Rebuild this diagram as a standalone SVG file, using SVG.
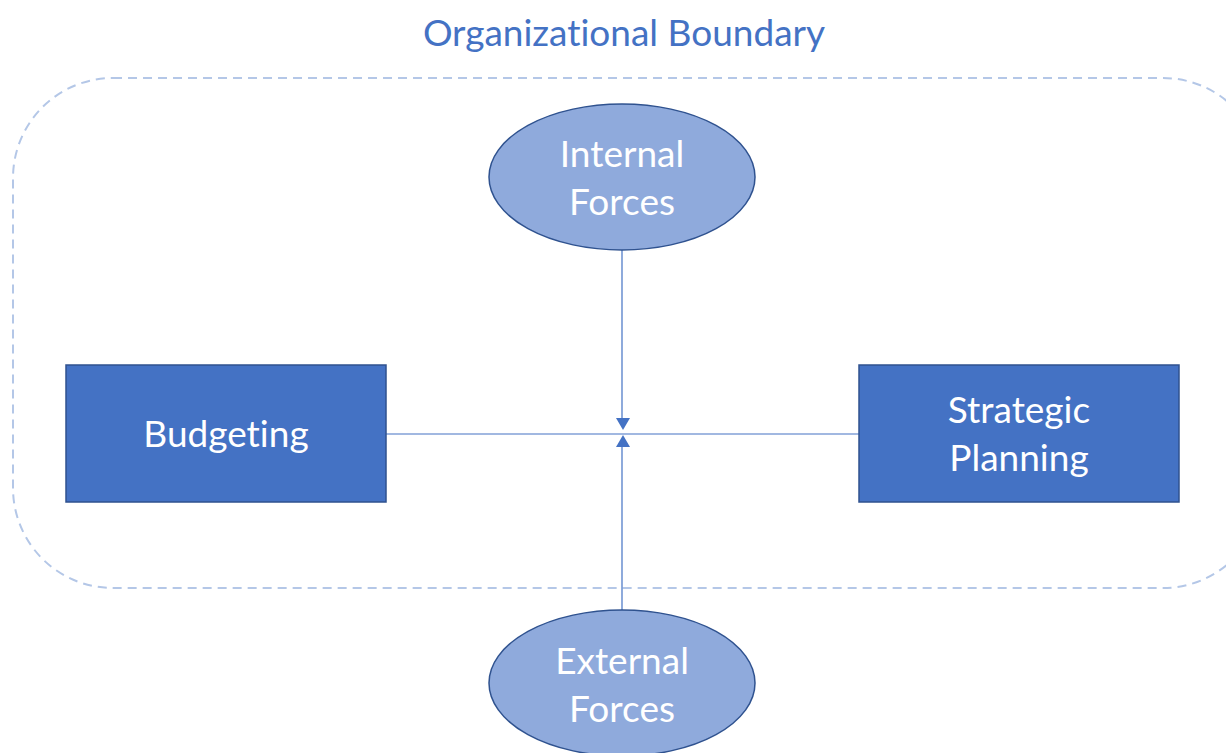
<svg xmlns="http://www.w3.org/2000/svg" width="1226" height="753" viewBox="0 0 1226 753">
<style>
.box{fill:#4472C4;stroke:#2F528F;stroke-width:1.5}
.ell{fill:#8FAADC;stroke:#2F528F;stroke-width:1.5}
.lbl{font-family:Lato,"Open Sans",sans-serif;font-size:37px;fill:#FFFFFF;text-anchor:middle;font-variant-ligatures:none}
.title{font-family:Lato,"Open Sans",sans-serif;font-size:37px;fill:#4472C4;text-anchor:middle;font-variant-ligatures:none}
.conn{stroke:#4472C4;stroke-width:1.2;fill:none}
</style>
<rect width="1226" height="753" fill="#FFFFFF"/>
<g id="boundary">
<rect x="13" y="78" width="1250" height="510" rx="100" ry="100" fill="none" stroke="#B4C7E7" stroke-width="2" stroke-dasharray="9,6"/>
<text class="title" x="624" y="46">Organizational Boundary</text>
</g>
<g id="connectors">
<line class="conn" x1="386" y1="434" x2="859" y2="434"/>
<line class="conn" x1="622" y1="250" x2="622" y2="418"/>
<path d="M616,418 L630,418 L623,430 z" fill="#4472C4"/>
<line class="conn" x1="622" y1="610" x2="622" y2="447"/>
<path d="M616,447 L630,447 L623,435 z" fill="#4472C4"/>
</g>
<g id="budgeting">
<rect class="box" x="66" y="365" width="320" height="137"/>
<text class="lbl" x="226" y="447">Budgeting</text>
</g>
<g id="strategic-planning">
<rect class="box" x="859" y="365" width="320" height="137"/>
<text class="lbl" x="1019" y="423">Strategic</text>
<text class="lbl" x="1019" y="471">Planning</text>
</g>
<g id="internal-forces">
<ellipse class="ell" cx="622" cy="177" rx="133" ry="73"/>
<text class="lbl" x="622" y="167">Internal</text>
<text class="lbl" x="622" y="215">Forces</text>
</g>
<g id="external-forces">
<ellipse class="ell" cx="622" cy="683" rx="133" ry="73"/>
<text class="lbl" x="622" y="674">External</text>
<text class="lbl" x="622" y="722">Forces</text>
</g>
</svg>
